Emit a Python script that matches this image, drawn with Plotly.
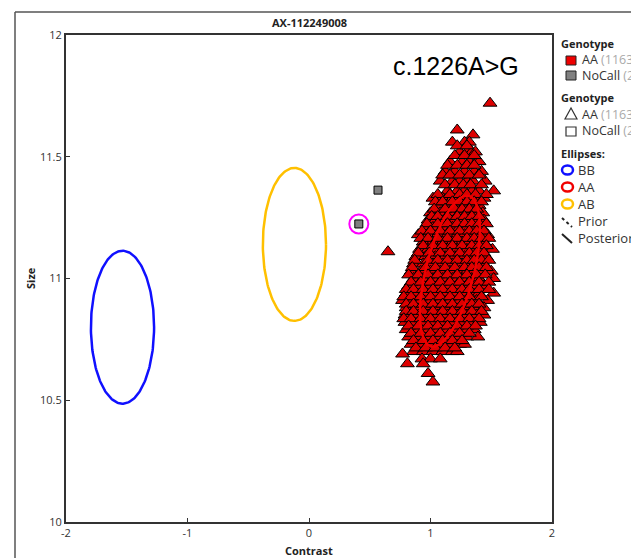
import numpy as np
import plotly.graph_objects as go

# ---------------- data ----------------
# AA cluster, grouped in rows of equal Size
aa_size_rows = [11.72, 11.61, 11.59, 11.56, 11.52, 11.48, 11.44, 11.40, 11.36, 11.33,
                11.30, 11.27, 11.24, 11.21, 11.18, 11.15, 11.12, 11.11, 11.09, 11.06,
                11.03, 11.00, 10.97, 10.94, 10.91, 10.88, 10.85, 10.82, 10.79, 10.76,
                10.73, 10.70, 10.69, 10.67, 10.65, 10.61, 10.575,
                11.545, 11.505, 11.465, 11.425, 11.385, 11.345, 11.315, 11.285, 11.255,
                11.225, 11.195, 11.165, 11.135, 11.105, 11.075, 11.045, 11.015, 10.985,
                10.955, 10.925, 10.895, 10.865, 10.835, 10.805, 10.775, 10.745, 10.715]
aa_contrast_rows = [
    [1.49],
    [1.22],
    [1.35],
    [1.18, 1.28, 1.32],
    [1.24, 1.30, 1.34, 1.37],
    [1.16, 1.26, 1.32, 1.38, 1.40],
    [1.12, 1.20, 1.28, 1.36, 1.42],
    [1.08, 1.18, 1.24, 1.30, 1.35, 1.45],
    [1.14, 1.22, 1.28, 1.34, 1.40, 1.52],
    [1.02, 1.10, 1.18, 1.26, 1.32, 1.38, 1.44],
    [1.06, 1.14, 1.20, 1.28, 1.34, 1.40],
    [1.00, 1.08, 1.16, 1.24, 1.30, 1.36, 1.43],
    [0.98, 1.04, 1.12, 1.20, 1.26, 1.32, 1.38, 1.44],
    [0.96, 1.02, 1.10, 1.18, 1.24, 1.30, 1.36, 1.42],
    [0.90, 0.98, 1.06, 1.14, 1.22, 1.28, 1.34, 1.40, 1.47],
    [0.94, 1.02, 1.10, 1.18, 1.26, 1.32, 1.38, 1.44],
    [0.91, 0.98, 1.06, 1.14, 1.22, 1.30, 1.36, 1.42, 1.51],
    [0.65],
    [0.88, 0.96, 1.04, 1.12, 1.20, 1.28, 1.34, 1.40, 1.46],
    [0.86, 0.94, 1.02, 1.10, 1.18, 1.26, 1.32, 1.38, 1.44],
    [0.84, 0.92, 1.00, 1.08, 1.16, 1.24, 1.30, 1.36, 1.42, 1.50],
    [0.86, 0.94, 1.02, 1.10, 1.18, 1.26, 1.34, 1.40, 1.52],
    [0.82, 0.90, 0.98, 1.06, 1.14, 1.22, 1.30, 1.36, 1.44],
    [0.80, 0.88, 0.96, 1.04, 1.12, 1.20, 1.28, 1.34, 1.40, 1.52],
    [0.77, 0.84, 0.92, 1.00, 1.08, 1.16, 1.24, 1.30, 1.38, 1.47],
    [0.80, 0.88, 0.96, 1.04, 1.12, 1.20, 1.28, 1.36, 1.44],
    [0.79, 0.82, 0.90, 0.98, 1.06, 1.14, 1.22, 1.30, 1.38, 1.44],
    [0.79, 0.86, 0.94, 1.02, 1.10, 1.18, 1.26, 1.34, 1.41],
    [0.80, 0.88, 0.96, 1.04, 1.12, 1.20, 1.28, 1.36],
    [0.82, 0.90, 0.98, 1.06, 1.14, 1.22, 1.30, 1.39],
    [0.84, 0.92, 1.00, 1.08, 1.16, 1.24, 1.28],
    [0.86, 0.94, 1.02, 1.10, 1.18, 1.22],
    [0.77],
    [0.93, 1.00, 1.08],
    [0.81, 0.94],
    [0.98],
    [1.02],
    [1.22, 1.30],
    [1.20, 1.28, 1.36],
    [1.14, 1.22, 1.30, 1.36],
    [1.10, 1.16, 1.24, 1.32, 1.40],
    [1.12, 1.20, 1.27, 1.33, 1.42],
    [1.06, 1.16, 1.24, 1.30, 1.37, 1.46],
    [1.04, 1.10, 1.18, 1.24, 1.30, 1.36, 1.42],
    [1.03, 1.12, 1.20, 1.26, 1.32, 1.38],
    [1.01, 1.06, 1.14, 1.22, 1.28, 1.34, 1.40],
    [0.97, 1.06, 1.14, 1.22, 1.28, 1.34, 1.40, 1.46],
    [0.93, 1.00, 1.08, 1.16, 1.24, 1.32, 1.38, 1.44],
    [0.92, 0.98, 1.06, 1.14, 1.22, 1.30, 1.36, 1.42, 1.48],
    [0.94, 1.02, 1.10, 1.18, 1.26, 1.34, 1.40, 1.46],
    [0.90, 0.99, 1.08, 1.16, 1.24, 1.32, 1.38, 1.44],
    [0.87, 0.98, 1.06, 1.14, 1.22, 1.30, 1.36, 1.42, 1.48],
    [0.85, 0.96, 1.04, 1.12, 1.20, 1.28, 1.34, 1.40, 1.46],
    [0.82, 0.90, 0.98, 1.06, 1.14, 1.22, 1.30, 1.38, 1.45],
    [0.84, 0.92, 1.00, 1.08, 1.16, 1.24, 1.32, 1.40, 1.48],
    [0.80, 0.86, 0.94, 1.02, 1.10, 1.18, 1.26, 1.32, 1.40, 1.48],
    [0.78, 0.84, 0.92, 1.00, 1.08, 1.16, 1.24, 1.32, 1.42],
    [0.80, 0.86, 0.94, 1.02, 1.10, 1.18, 1.26, 1.34, 1.40],
    [0.80, 0.86, 0.94, 1.02, 1.10, 1.18, 1.26, 1.34, 1.42],
    [0.78, 0.84, 0.92, 1.00, 1.08, 1.16, 1.24, 1.32, 1.40],
    [0.82, 0.90, 0.98, 1.06, 1.14, 1.22, 1.30, 1.37],
    [0.84, 0.92, 1.00, 1.08, 1.16, 1.24, 1.32],
    [0.86, 0.94, 1.02, 1.10, 1.18, 1.26],
    [0.88, 0.96, 1.04, 1.12, 1.20],
]
nocall_contrast = [0.41, 0.568]
nocall_size = [11.224, 11.363]
highlight_contrast = [0.41]
highlight_size = [11.224]

# cluster ellipses
ell_names = ["BB", "AA", "AB"]
ell_colors = ["#1010ff", "#f00000", "#ffc000"]
ell_cx = [-1.535, 1.16, -0.12]
ell_cy = [10.80, 11.03, 11.14]
ell_rx = [0.26, 0.204, 0.26]
ell_ry = [0.314, 0.31, 0.314]
ell_shear = [0.0, 0.14, 0.0]

x_ticks = [-2, -1, 0, 1, 2]
y_ticks = [10, 10.5, 11, 11.5, 12]
y_tick_text = ["10", "10.5", "11", "11.5", "12"]

genotype_labels = ["AA", "NoCall"]
genotype_counts = [1163, 2]
ellipse_legend = ["BB", "AA", "AB", "Prior", "Posterior"]

# ---------------- build ----------------
aa_x, aa_y = [], []
for s, row in zip(aa_size_rows, aa_contrast_rows):
    for c in row:
        aa_x.append(c)
        aa_y.append(s)

OFF = 8  # page body margin offset
W, H = 639, 558
# plot area in screen pixels
PX0, PX1, PY0, PY1 = 66, 552, 35, 522
def pxp(px): return (px - PX0) / (PX1 - PX0)
def pyp(py): return (PY1 - py) / (PY1 - PY0)

FONT = "Open Sans"
fig = go.Figure()

fig.add_trace(go.Scatter(
    x=aa_x, y=aa_y, mode="markers", showlegend=False,
    marker=dict(symbol="triangle-up", size=12, color="#dd0000",
                line=dict(color="black", width=1))))
fig.add_trace(go.Scatter(
    x=nocall_contrast, y=nocall_size, mode="markers", showlegend=False,
    marker=dict(symbol="square", size=8, color="#808080",
                line=dict(color="black", width=1))))
fig.add_trace(go.Scatter(
    x=highlight_contrast, y=highlight_size, mode="markers", showlegend=False,
    marker=dict(symbol="circle-open", size=19, color="#ff00ff",
                line=dict(color="#ff00ff", width=2))))

t = np.linspace(0, 2 * np.pi, 200)
for name, col, cx, cy, rx, ry, sh in zip(ell_names, ell_colors, ell_cx, ell_cy,
                                         ell_rx, ell_ry, ell_shear):
    fig.add_trace(go.Scatter(
        x=cx + rx * np.cos(t) + sh * np.sin(t), y=cy + ry * np.sin(t),
        mode="lines", showlegend=False, line=dict(color=col, width=2.5)))

shapes = []
def pshape(**kw):
    d = dict(xref="paper", yref="paper")
    d.update(kw)
    shapes.append(d)

# outer frame
pshape(type="line", x0=pxp(15), x1=pxp(15), y0=pyp(12), y1=pyp(700),
       line=dict(color="#555", width=1.5))
pshape(type="line", x0=pxp(15), x1=pxp(800), y0=pyp(12), y1=pyp(12),
       line=dict(color="#555", width=1.5))
# legend markers
pshape(type="rect", x0=pxp(566), x1=pxp(576), y0=pyp(65), y1=pyp(56),
       fillcolor="#ee0000", line=dict(color="#222", width=1))
pshape(type="rect", x0=pxp(566), x1=pxp(576), y0=pyp(80), y1=pyp(71),
       fillcolor="#808080", line=dict(color="#222", width=1))
pshape(type="path",
       path=f"M {pxp(565)} {pyp(119)} L {pxp(577)} {pyp(119)} L {pxp(571)} {pyp(108)} Z",
       line=dict(color="#333", width=1.2))
pshape(type="rect", x0=pxp(566), x1=pxp(576), y0=pyp(136), y1=pyp(127),
       line=dict(color="#333", width=1.2))
for col, yy in zip(ell_colors, [170, 187, 204]):
    pshape(type="circle", x0=pxp(562), x1=pxp(573), y0=pyp(yy + 4.5), y1=pyp(yy - 4.5),
           line=dict(color=col, width=2.5))
pshape(type="line", x0=pxp(562), x1=pxp(572), y0=pyp(218), y1=pyp(227),
       line=dict(color="#222", width=2, dash="dot"))
pshape(type="line", x0=pxp(562), x1=pxp(572), y0=pyp(234), y1=pyp(243),
       line=dict(color="#222", width=2))

ann = []
def add_text(px, py, text, size=11, bold=False, color="#222", xanchor="left", angle=0,
             family=FONT):
    ann.append(dict(xref="paper", yref="paper", x=pxp(px), y=pyp(py),
                    text=f"<b>{text}</b>" if bold else text, showarrow=False,
                    xanchor=xanchor, yanchor="middle", textangle=angle, borderpad=0,
                    align="left", font=dict(size=size, color=color, family=family)))

add_text(309, 22, "AX-112249008", size=11, bold=True, xanchor="center")
add_text(309, 550, "Contrast", size=11, bold=True, xanchor="center")
add_text(30, 278, "Size", size=11, bold=True, xanchor="center", angle=-90)
add_text(392, 66, "c.1226A>G", size=25, color="black", family="Liberation Sans")

geno_text = "<br>".join(f"{lab} <span style='color:#aaa'>({n})</span>"
                        for lab, n in zip(genotype_labels, genotype_counts))
add_text(560, 43, "Genotype", bold=True)
add_text(581, 68, geno_text, size=12.5, color="#333")
add_text(560, 98, "Genotype", bold=True)
add_text(581, 122.5, geno_text, size=12.5, color="#333")
add_text(560, 153, "Ellipses:", bold=True)
add_text(577, 204.5, "<br>".join(ellipse_legend), size=13, color="#333")

axis_common = dict(showgrid=False, zeroline=False, showline=True, mirror=True,
                   linecolor="#333", linewidth=2, ticks="inside", ticklen=4,
                   tickcolor="#333", tickfont=dict(size=11, color="#333", family=FONT))
fig.update_layout(
    width=W, height=H, autosize=False,
    margin=dict(l=PX0 - OFF, r=W - (PX1 - OFF), t=PY0 - OFF, b=H - (PY1 - OFF)),
    plot_bgcolor="white", paper_bgcolor="white",
    xaxis=dict(range=[-2, 2], tickvals=x_ticks, ticktext=[str(v) for v in x_ticks],
               **axis_common),
    yaxis=dict(range=[10, 12], tickvals=y_ticks, ticktext=y_tick_text, **axis_common),
    shapes=shapes, annotations=ann, showlegend=False,
)
fig.write_html("out.html")
